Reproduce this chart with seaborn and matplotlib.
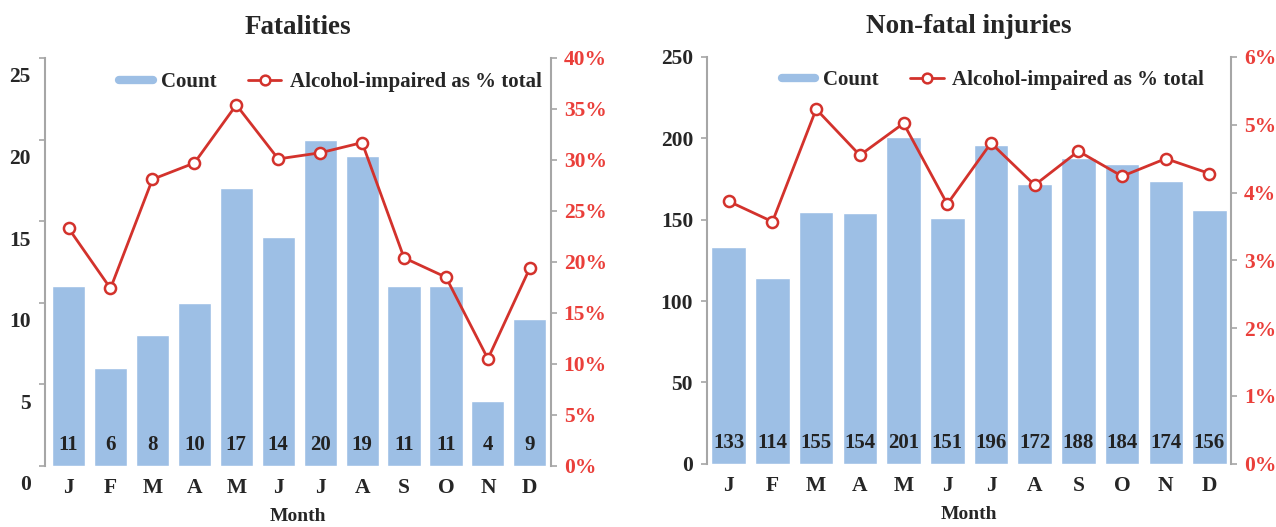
"""Monthly fatalities and non-fatal injuries with alcohol-impaired share."""

import matplotlib
matplotlib.use("Agg")

import matplotlib.pyplot as plt
import matplotlib.transforms as mtransforms
import numpy as np
import pandas as pd
import seaborn as sns
from matplotlib.lines import Line2D
from matplotlib.ticker import FuncFormatter

MONTHS = ["Jan", "Feb", "Mar", "Apr", "May", "Jun",
          "Jul", "Aug", "Sep", "Oct", "Nov", "Dec"]
MONTH_LETTERS = ["J", "F", "M", "A", "M", "J", "J", "A", "S", "O", "N", "D"]

FATAL_COUNT = [11, 6, 8, 10, 17, 14, 20, 19, 11, 11, 4, 9]
FATAL_PCT = [23.3, 17.4, 28.1, 29.7, 35.4, 30.1, 30.7, 31.7, 20.4, 18.5, 10.5, 19.4]

INJURY_COUNT = [133, 114, 155, 154, 201, 151, 196, 172, 188, 184, 174, 156]
INJURY_PCT = [3.87, 3.57, 5.23, 4.55, 5.02, 3.83, 4.73, 4.11, 4.61, 4.24, 4.50, 4.28]

BAR_COLOR = "#9dbfe5"
LINE_COLOR = "#d3322c"
PCT_COLOR = "#ea3f3a"
SPINE_COLOR = "#a6a6a6"
FONT = "Liberation Serif"
TICK_SIZE = 15.5


def style_axes(ax, ax2):
    for a in (ax, ax2):
        for side in ("top", "bottom", "left", "right"):
            a.spines[side].set_visible(False)
    ax.spines["left"].set_visible(True)
    ax.spines["left"].set_color(SPINE_COLOR)
    ax.spines["left"].set_linewidth(1.5)
    ax2.spines["right"].set_visible(True)
    ax2.spines["right"].set_color(SPINE_COLOR)
    ax2.spines["right"].set_linewidth(1.5)
    ax.tick_params(axis="y", left=True, length=4, width=1.2, color=SPINE_COLOR,
                   labelsize=TICK_SIZE, pad=6)
    ax.tick_params(axis="x", bottom=False, labelsize=TICK_SIZE, pad=3)
    ax2.tick_params(axis="y", right=True, length=4, width=1.2, color=SPINE_COLOR,
                    labelsize=TICK_SIZE, labelcolor=PCT_COLOR, pad=5)
    for lab in ax.get_yticklabels() + ax.get_xticklabels() + ax2.get_yticklabels():
        lab.set_fontweight("bold")
        lab.set_family(FONT)


def draw_panel(fig, rect, title, counts, pcts, ymax, pmax, pstep,
               xlim, legend_xy, label_y, ylabel_shift=0.0):
    df = pd.DataFrame({"month": MONTHS, "count": counts,
                       "pos": np.arange(len(MONTHS)), "pct": pcts})
    ax = fig.add_axes(rect)
    sns.barplot(data=df, x="month", y="count", color=BAR_COLOR,
                saturation=1, width=0.79, ax=ax)
    ax2 = ax.twinx()
    sns.lineplot(data=df, x="pos", y="pct", color=LINE_COLOR, lw=2,
                 marker="o", markersize=8, markerfacecolor="white",
                 markeredgecolor=LINE_COLOR, markeredgewidth=1.8, ax=ax2)

    ax.set_xlim(*xlim)
    ax.set_ylim(0, ymax)
    ax.set_yticks(np.arange(0, ymax + 1, ymax // 5))
    ax2.set_ylim(0, pmax)
    ax2.set_yticks(np.arange(0, pmax + 0.001, pstep))
    ax2.yaxis.set_major_formatter(FuncFormatter(lambda v, _: f"{v:g}%"))
    ax.set_xticks(range(len(MONTHS)))
    ax.set_xticklabels(MONTH_LETTERS)
    ax.set_ylabel("")
    ax2.set_ylabel("")
    ax.set_xlabel("Month", fontsize=14, fontweight="bold", family=FONT,
                  labelpad=7)
    ax.set_title(title, fontsize=19.5, fontweight="bold", family=FONT, pad=17)

    style_axes(ax, ax2)

    if ylabel_shift:
        offset = mtransforms.ScaledTranslation(0, -ylabel_shift / 100,
                                               fig.dpi_scale_trans)
        for lab in ax.get_yticklabels():
            lab.set_transform(lab.get_transform() + offset)

    trans = mtransforms.blended_transform_factory(ax.transData, ax.transAxes)
    for i, c in enumerate(counts):
        ax.text(i, label_y, str(c), transform=trans, ha="center", va="center",
                fontsize=15, fontweight="bold", family=FONT, color="#222222")

    handles = [
        Line2D([0], [0], color=BAR_COLOR, lw=6),
        Line2D([0], [0], color=LINE_COLOR, lw=2, marker="o", markersize=7,
               markerfacecolor="white", markeredgewidth=1.8),
    ]
    ax2.legend(handles, ["Count", "Alcohol-impaired as % total"],
               loc="center", bbox_to_anchor=legend_xy, ncol=2, frameon=False,
               handlelength=1.6, handletextpad=0.4, columnspacing=1.5,
               prop={"family": FONT, "weight": "bold", "size": 15})


def main():
    sns.set_theme(style="white")
    plt.rcParams["font.family"] = [FONT, "DejaVu Serif"]

    fig = plt.figure(figsize=(12.76, 5.27), dpi=100)
    draw_panel(fig, [0.035, 0.116, 0.397, 0.774], "Fatalities",
               FATAL_COUNT, FATAL_PCT, 25, 40, 5,
               (-0.57, 11.51), (0.564, 0.94), 0.052, ylabel_shift=17)
    draw_panel(fig, [0.554, 0.12, 0.411, 0.772], "Non-fatal injuries",
               INJURY_COUNT, INJURY_PCT, 250, 6, 1,
               (-0.5, 11.5), (0.545, 0.943), 0.052)
    fig.savefig("out.png", dpi=100)


if __name__ == "__main__":
    main()
